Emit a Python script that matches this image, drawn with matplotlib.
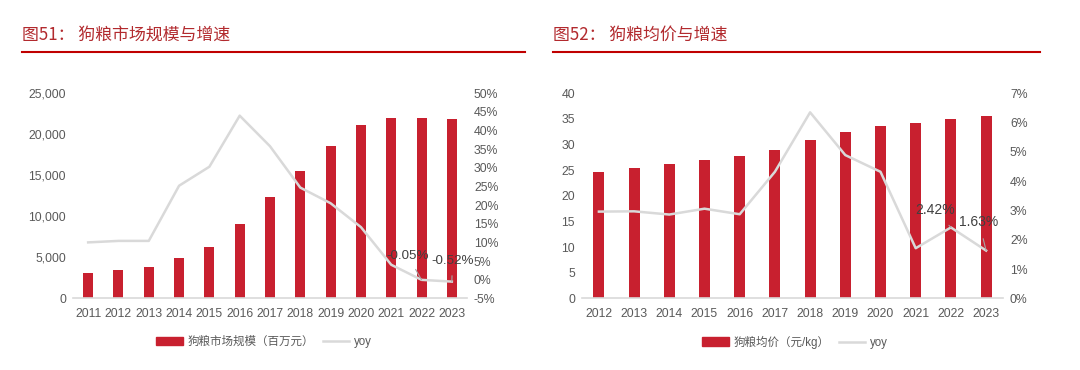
import matplotlib
matplotlib.use("Agg")
import matplotlib.pyplot as plt
from matplotlib.ticker import FuncFormatter
from matplotlib.lines import Line2D
from matplotlib.patches import Patch

plt.rcParams['font.family'] = ['Liberation Sans', 'Noto Sans CJK SC', 'DejaVu Sans']

# ---- Data: chart 51 ----
years1 = ['2011', '2012', '2013', '2014', '2015', '2016', '2017', '2018', '2019', '2020', '2021', '2022', '2023']
size1 = [3130, 3455, 3780, 4880, 6300, 9060, 12360, 15490, 18580, 21100, 21950, 21940, 21830]
yoy1 = [10.0, 10.4, 10.4, 25.2, 30.3, 44.0, 35.8, 24.7, 20.5, 14.1, 4.0, -0.05, -0.52]
title1 = '图51： 狗粮市场规模与增速'
bar_label1 = '狗粮市场规模（百万元）'

# ---- Data: chart 52 ----
years2 = ['2012', '2013', '2014', '2015', '2016', '2017', '2018', '2019', '2020', '2021', '2022', '2023']
price2 = [24.7, 25.4, 26.2, 27.0, 27.7, 28.9, 30.8, 32.4, 33.6, 34.3, 35.0, 35.6]
yoy2 = [2.96, 2.97, 2.86, 3.06, 2.87, 4.32, 6.35, 4.89, 4.32, 1.71, 2.42, 1.63]
title2 = '图52： 狗粮均价与增速'
bar_label2 = '狗粮均价（元/kg）'
line_label = 'yoy'

RED = '#C8202F'
GRAY_LINE = '#D9D9D9'
TXT = '#595959'
TITLE_RED = '#B22A2E'

fig = plt.figure(figsize=(10.8, 3.7), dpi=100)
W, H = 1080, 370

def fx(px):
    return px / W

def fy(py):
    return 1 - py / H

def setup(ax, ax2):
    for s in ['top', 'right', 'left']:
        ax.spines[s].set_visible(False)
    ax.spines['bottom'].set_color('#D9D9D9')
    ax.spines['bottom'].set_linewidth(1.2)
    for s in ax2.spines.values():
        s.set_visible(False)
    ax.tick_params(axis='both', length=0, labelsize=8.8, colors=TXT, pad=5)
    ax.tick_params(axis='x', pad=7)
    ax2.tick_params(axis='both', length=0, labelsize=8.8, colors=TXT, pad=5)
    ax.set_zorder(1)
    ax2.set_zorder(2)
    ax.patch.set_visible(False)

# ---------- Chart 51 ----------
ax1 = fig.add_axes([fx(73), fy(298.3), fx(467 - 73), fy(93.3) - fy(298.3)])
ax1b = ax1.twinx()
x1 = list(range(len(years1)))
ax1.bar(x1, size1, width=0.33, color=RED, zorder=2)
ax1.set_xlim(-0.5, len(years1) - 0.5)
ax1.set_ylim(0, 25000)
ax1.set_yticks(range(0, 25001, 5000))
ax1.yaxis.set_major_formatter(FuncFormatter(lambda v, p: f'{int(v):,}'))
ax1.set_xticks(x1)
ax1.set_xticklabels(years1)
ax1b.plot(x1, yoy1, color=GRAY_LINE, lw=1.8, zorder=3)
ax1b.set_ylim(-5, 50)
ax1b.set_yticks(range(-5, 51, 5))
ax1b.yaxis.set_major_formatter(FuncFormatter(lambda v, p: f'{int(v)}%'))
setup(ax1, ax1b)
ax1b.annotate(f'{yoy1[11]:.2f}%', xy=(x1[11], yoy1[11]), xytext=(x1[10] + 0.55, 6.4),
              ha='center', va='center', fontsize=9.6, color='#404040',
              arrowprops=dict(arrowstyle='-', color='#A6A6A6', lw=0.8, shrinkA=4, shrinkB=0))
ax1b.annotate(f'{yoy1[12]:.2f}%', xy=(x1[12], yoy1[12]), xytext=(x1[12] + 0.02, 4.9),
              ha='center', va='center', fontsize=9.6, color='#404040',
              arrowprops=dict(arrowstyle='-', color='#A6A6A6', lw=0.8, shrinkA=4, shrinkB=0))

# ---------- Chart 52 ----------
ax2 = fig.add_axes([fx(582), fy(298.3), fx(1003 - 582), fy(93.3) - fy(298.3)])
ax2b = ax2.twinx()
x2 = list(range(len(years2)))
ax2.bar(x2, price2, width=0.31, color=RED, zorder=2)
ax2.set_xlim(-0.48, len(years2) - 0.52)
ax2.set_ylim(0, 40)
ax2.set_yticks(range(0, 41, 5))
ax2.set_xticks(x2)
ax2.set_xticklabels(years2)
ax2b.plot(x2, yoy2, color=GRAY_LINE, lw=1.8, zorder=3)
ax2b.set_ylim(0, 7)
ax2b.set_yticks(range(0, 8, 1))
ax2b.yaxis.set_major_formatter(FuncFormatter(lambda v, p: f'{int(v)}%'))
setup(ax2, ax2b)
ax2b.annotate(f'{yoy2[10]:.2f}%', xy=(x2[10], yoy2[10]), xytext=(x2[9] + 0.55, 3.0),
              ha='center', va='center', fontsize=10, color='#404040',
              arrowprops=dict(arrowstyle='-', color='#A6A6A6', lw=0.8, shrinkA=5, shrinkB=0))
ax2b.annotate(f'{yoy2[11]:.2f}%', xy=(x2[11], yoy2[11]), xytext=(x2[10] + 0.8, 2.6),
              ha='center', va='center', fontsize=10, color='#404040',
              arrowprops=dict(arrowstyle='-', color='#A6A6A6', lw=0.8, shrinkA=5, shrinkB=0))

# ---------- Titles & red rules ----------
fig.text(fx(22), fy(35), title1, fontsize=12.2, color=TITLE_RED, va='center', ha='left',
         family=['Noto Sans CJK SC', 'DejaVu Sans'])
fig.text(fx(553), fy(35), title2, fontsize=12.2, color=TITLE_RED, va='center', ha='left',
         family=['Noto Sans CJK SC', 'DejaVu Sans'])
fig.add_artist(Line2D([fx(22), fx(525)], [fy(52), fy(52)], color='#C00000', lw=1.5))
fig.add_artist(Line2D([fx(553), fx(1040)], [fy(52), fy(52)], color='#C00000', lw=1.5))

# ---------- Legends ----------
def legend(handles, labels, cx):
    fig.legend(handles, labels, loc='center', bbox_to_anchor=(fx(cx), fy(342)),
               ncol=2, frameon=False, fontsize=8.3, labelcolor=TXT,
               handlelength=2.3, handleheight=0.7, handletextpad=0.4, columnspacing=0.8)

legend([Patch(color=RED), Line2D([], [], color=GRAY_LINE, lw=1.8)], [bar_label1, line_label], 264)
legend([Patch(color=RED), Line2D([], [], color=GRAY_LINE, lw=1.8)], [bar_label2, line_label], 795)

fig.savefig('out.png', dpi=100, facecolor='white')
